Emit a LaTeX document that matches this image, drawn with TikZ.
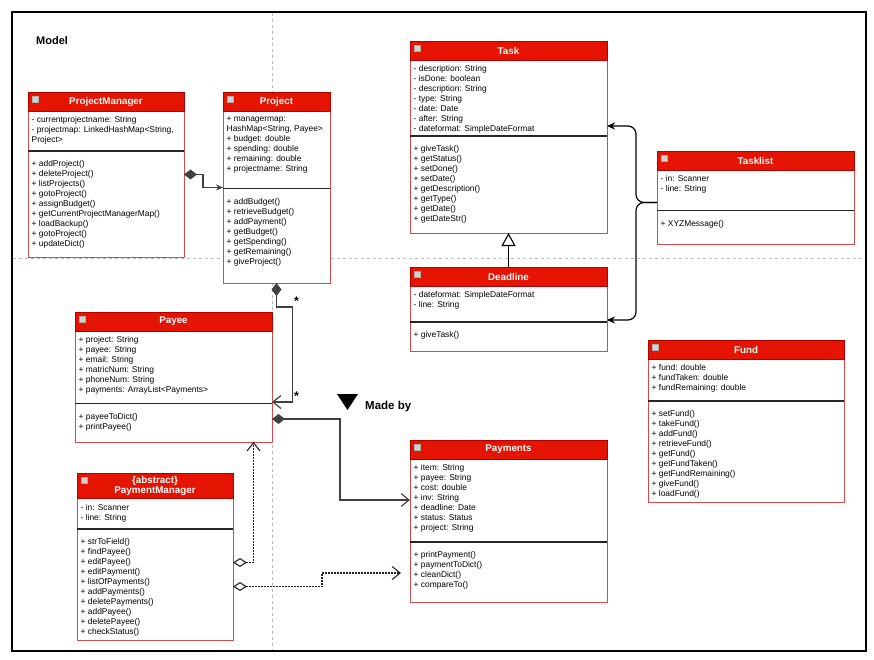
\documentclass[tikz,border=0pt]{standalone}
\usepackage{fontspec}
\setmainfont{Liberation Sans}
\usetikzlibrary{arrows.meta,positioning}

\definecolor{umlred}{HTML}{E51400}
\definecolor{umldark}{HTML}{B20000}
\definecolor{umlborder}{HTML}{D04C4C}

% one class box: name, top left, width, height, title, divider offset, attributes, operations
\newcommand{\umlclass}[8]{%
  \node[classbox, minimum width=#3, minimum height=#4, anchor=north west] (#1) at #2 {};
  \node[classhead, minimum width=#3, anchor=north west] (#1-head) at (#1.north west) {#5};
  \filldraw[fill=gray!35, draw=gray!65] ([xshift=4,yshift=-4]#1.north west) rectangle ++(6,6);
  \node[members, anchor=north west] (#1-attr) at (#1-head.south west) {#7};
  \draw[divider] ([yshift=-#6]#1.north west) -- ([yshift=-#6]#1.north east);
  \node[members, anchor=north west] (#1-ops) at ([yshift={-(#6)-4}]#1.north west) {#8};
}

\begin{document}
\begin{tikzpicture}[
    x=1pt, y=-1pt,
    classbox/.style={rectangle, draw=umlborder, fill=white, line width=0.9pt, outer sep=0pt},
    classhead/.style={rectangle, draw=umldark, fill=umlred, line width=0.6pt, outer sep=0pt, minimum height=19, inner sep=3pt, text=white, align=center, font=\bfseries\fontsize{9.8}{10.5}\selectfont},
    members/.style={align=left, inner xsep=3.5pt, inner ysep=5.3pt, font=\fontsize{8.4}{10}\selectfont},
    divider/.style={draw=black!85, line width=1.1pt},
    guide/.style={draw=gray!55, line width=0.6pt, dash pattern=on 3pt off 3pt},
    compose/.style={draw=black!75, line width=1.2pt, {Diamond[length=13pt,width=10pt]}-{Straight Barb[length=8pt,width=13pt]}},
    aggr/.style={draw=black!85, line width=1.1pt, dash pattern=on 1.6pt off 1.4pt, {Diamond[open,fill=white,length=14pt,width=9pt]}-{Straight Barb[length=8pt,width=13pt]}},
    assoc/.style={draw=black, line width=1.2pt, rounded corners=8pt, -{Stealth[length=8pt,width=7pt]}},
    inherit/.style={draw=black, line width=1.1pt, -{Triangle[open,fill=white,length=13pt,width=14pt]}},
    mult/.style={inner sep=1pt, font=\bfseries\fontsize{12.5}{12}\selectfont},
    tag/.style={inner sep=0pt, anchor=west, font=\bfseries\fontsize{11.5}{12}\selectfont}
]
\useasboundingbox (0,0) rectangle (874,660);

% Frame and guides
\draw[line width=2.2pt] (12,12) rectangle (866,651);
\draw[guide] (272,13) -- (272,650);
\draw[guide] (13,258) -- (865,258);
\node[tag, font=\bfseries\fontsize{11}{12}\selectfont] (model) at (36,41) {Model};

% Nodes
\umlclass{pm}{(28,92)}{156}{165}{ProjectManager}{59}
  {- currentprojectname: String\\- projectmap: LinkedHashMap<String,\\Project>}
  {+ addProject()\\+ deleteProject()\\+ listProjects()\\+ gotoProject()\\+ assignBudget()\\+ getCurrentProjectManagerMap()\\+ loadBackup()\\+ gotoProject()\\+ updateDict()}

\umlclass{proj}{(223,92)}{107}{191}{Project}{96.5}
  {+ managermap:\\HashMap<String, Payee>\\+ budget: double\\+ spending: double\\+ remaining: double\\+ projectname: String}
  {+ addBudget()\\+ retrieveBudget()\\+ addPayment()\\+ getBudget()\\+ getSpending()\\+ getRemaining()\\+ giveProject()}

\umlclass{task}{(410,41)}{197}{192}{Task}{95}
  {- description: String\\- isDone: boolean\\- description: String\\- type: String\\- date: Date\\- after: String\\- dateformat: SimpleDateFormat}
  {+ giveTask()\\+ getStatus()\\+ setDone()\\+ setDate()\\+ getDescription()\\+ getType()\\+ getDate()\\+ getDateStr()}

\umlclass{dline}{(410,267)}{197}{84}{Deadline}{55}
  {- dateformat: SimpleDateFormat\\- line: String}
  {+ giveTask()}

\umlclass{tlist}{(657,151)}{197}{93}{Tasklist}{59.5}
  {- in: Scanner\\- line: String}
  {+ XYZMessage()}

\umlclass{payee}{(75,312)}{197}{130}{Payee}{91.5}
  {+ project: String\\+ payee: String\\+ email: String\\+ matricNum: String\\+ phoneNum: String\\+ payments: ArrayList<Payments>}
  {+ payeeToDict()\\+ printPayee()}

\umlclass{pmgr}{(77,473)}{156}{167}{\{abstract\}\\PaymentManager}{56}
  {- in: Scanner\\- line: String}
  {+ strToField()\\+ findPayee()\\+ editPayee()\\+ editPayment()\\+ listOfPayments()\\+ addPayments()\\+ deletePayments()\\+ addPayee()\\+ deletePayee()\\+ checkStatus()}

\umlclass{pays}{(410,440)}{197}{162}{Payments}{102}
  {+ item: String\\+ payee: String\\+ cost: double\\+ inv: String\\+ deadline: Date\\+ status: Status\\+ project: String}
  {+ printPayment()\\+ paymentToDict()\\+ cleanDict()\\+ compareTo()}

\umlclass{fund}{(648,340)}{196}{162}{Fund}{61}
  {+ fund: double\\+ fundTaken: double\\+ fundRemaining: double}
  {+ setFund()\\+ takeFund()\\+ addFund()\\+ retrieveFund()\\+ getFund()\\+ getFundTaken()\\+ getFundRemaining()\\+ giveFund()\\+ loadFund()}

\node[tag] (madeby) at (365,407) {Made by};
\fill ([xshift=-28,yshift=13]madeby.west) -- ++(21,0) -- ++(-10.5,16) -- cycle;

% Edges
\draw[compose, arrows={{Diamond[length=13pt,width=10pt]}-{Stealth[length=7pt,width=6pt]}}] (pm.east) -- ++(19,0) |- (proj.west);
\draw[compose] (proj.south) -- ++(0,24) -- ++(16,0) node[mult, above right] {*}
  |- ([yshift=-25]payee.east) node[mult, pos=0.5, above right] {*};
\draw[compose] ([yshift=-42]payee.east) -- ++(68,0) |- ([yshift=21]pays.west);
\draw[aggr] ([yshift=-6]pmgr.east) -| ([xshift=80]payee.south);
\draw[aggr, shorten >=9pt] ([yshift=-30]pmgr.east) -- ++(89,0) |- ([yshift=-52]pays.west);
\draw[inherit] (dline.north) -- (task.south);
\draw[assoc] ([yshift=-5]tlist.west) -- ++(-21,0) |- ([yshift=11]task.east);
\draw[assoc] ([yshift=-5]tlist.west) -- ++(-21,0) |- ([yshift=-11]dline.east);

\end{tikzpicture}
\end{document}
